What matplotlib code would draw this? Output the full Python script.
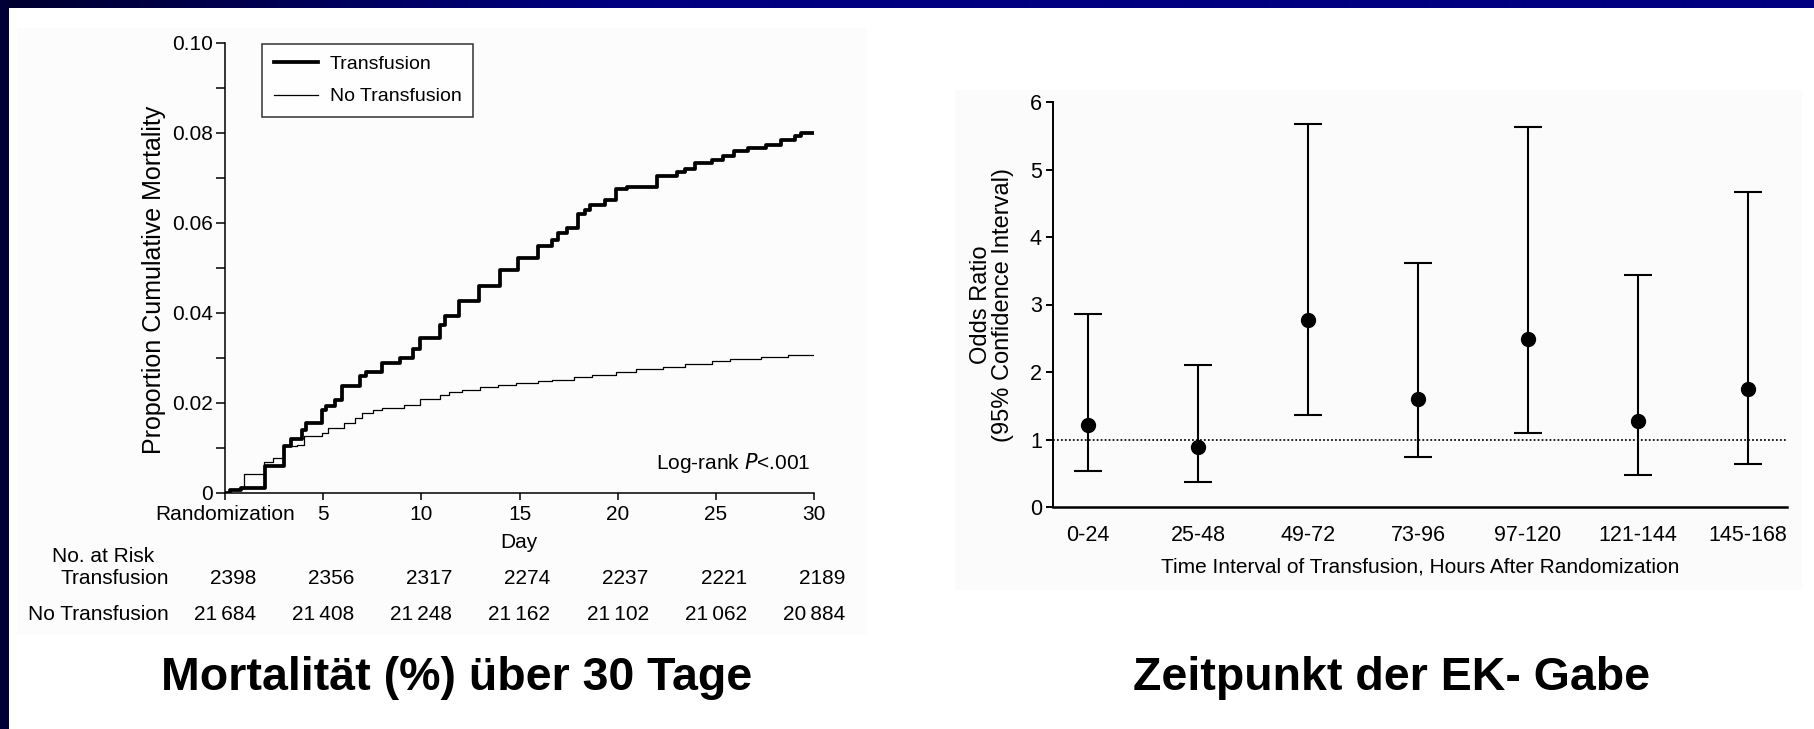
import numpy as np
import matplotlib
matplotlib.use("Agg")
import matplotlib.pyplot as plt
import matplotlib.transforms as mtransforms
from matplotlib.patches import Rectangle

plt.rcParams['font.family'] = ['Liberation Sans', 'DejaVu Sans']

# ---------------- data ----------------
trans_days = [0, 0.27, 0.84, 2.05, 3.0, 3.34, 3.91, 4.14, 4.93, 5.16, 5.61, 5.95, 6.86, 7.2,
              8.0, 8.91, 9.59, 9.93, 10.95, 11.18, 11.93, 12.93, 14.02, 14.93, 15.95, 16.64,
              16.98, 17.43, 18.0, 18.34, 18.57, 19.36, 19.93, 20.5, 21.98, 23.0, 23.45, 23.95,
              24.82, 25.39, 25.95, 26.64, 27.55, 28.34, 29.02, 29.36, 30]
trans_vals = [0, 0.0007, 0.0011, 0.0059, 0.0104, 0.0119, 0.0141, 0.0156, 0.0185, 0.0193, 0.0207,
              0.0237, 0.0259, 0.0269, 0.029, 0.030, 0.0319, 0.0344, 0.0374, 0.0393, 0.0426,
              0.0459, 0.0496, 0.0522, 0.055, 0.0563, 0.0578, 0.0589, 0.0619, 0.063, 0.0641,
              0.0652, 0.0676, 0.0681, 0.0704, 0.0713, 0.0719, 0.0733, 0.0741, 0.0748, 0.0759,
              0.0767, 0.0774, 0.0785, 0.0794, 0.0801, 0.0801]

notrans_days = [0, 0.27, 0.73, 0.95, 1.98, 2.43, 3.0, 3.68, 4.02, 4.93, 5.27, 6.07, 6.64, 6.98,
                7.55, 8.0, 9.14, 9.93, 10.95, 11.41, 12.09, 13.0, 13.91, 14.82, 15.95, 16.64,
                17.77, 18.68, 19.93, 20.95, 22.32, 23.45, 24.82, 25.73, 27.32, 28.68, 30]
notrans_vals = [0, 0.0007, 0.0011, 0.0043, 0.0068, 0.0078, 0.0104, 0.0107, 0.0126, 0.0133,
                0.0144, 0.0156, 0.0167, 0.0178, 0.0185, 0.0189, 0.0196, 0.0209, 0.0217, 0.0224,
                0.023, 0.0236, 0.0241, 0.0244, 0.0248, 0.0252, 0.0257, 0.0263, 0.027, 0.0276,
                0.0281, 0.0287, 0.0293, 0.0298, 0.0302, 0.0306, 0.0306]

risk_days = [0, 5, 10, 15, 20, 25, 30]
risk_trans = [2398, 2356, 2317, 2274, 2237, 2221, 2189]
risk_notrans = [21684, 21408, 21248, 21162, 21102, 21062, 20884]

categories = ['0-24', '25-48', '49-72', '73-96', '97-120', '121-144', '145-168']
odds = [1.21, 0.89, 2.77, 1.60, 2.49, 1.27, 1.75]
ci_low = [0.53, 0.37, 1.37, 0.74, 1.10, 0.47, 0.64]
ci_high = [2.86, 2.10, 5.67, 3.62, 5.63, 3.43, 4.67]

W, H = 1814, 729
fig = plt.figure(figsize=(W / 100, H / 100), dpi=100)
fig.patch.set_facecolor('white')

def fx(x):
    return x / W

def fy(y):
    return 1 - y / H

# background / frame
bg = fig.add_axes([0, 0, 1, 1], zorder=-10)
bg.axis('off')
bg.add_patch(Rectangle((17, 28), 850, 607, facecolor='#fcfcfc', edgecolor='none'))
bg.add_patch(Rectangle((955, 90), 847, 500, facecolor='#fbfbfb', edgecolor='none'))
grad = np.linspace(0, 1, 400)
cols = np.zeros((1, 400, 3))
start = np.array([0x00, 0x00, 0x30]) / 255
end = np.array([0x00, 0x00, 0x80]) / 255
t = np.clip(grad * 3, 0, 1)
cols[0] = start[None, :] * (1 - t[:, None]) + end[None, :] * t[:, None]
bg.imshow(cols, extent=(0, W, 8, 0), aspect='auto', interpolation='bilinear')
bg.add_patch(Rectangle((0, 0), 9, H, facecolor='#000036', edgecolor='none'))
bg.set_xlim(0, W)
bg.set_ylim(H, 0)

# ---------------- left panel ----------------
axL = fig.add_axes([fx(225), fy(493), fx(814) - fx(225), fy(43) - fy(493)])
axL.set_facecolor('none')
axL.step(trans_days, trans_vals, where='post', color='black', lw=2.7, label='Transfusion')
axL.step(notrans_days, notrans_vals, where='post', color='black', lw=0.9, label='No Transfusion')
axL.set_xlim(0, 30)
axL.set_ylim(0, 0.10)
for s in ['top', 'right']:
    axL.spines[s].set_visible(False)
for s in ['left', 'bottom']:
    axL.spines[s].set_linewidth(1.1)
axL.set_xticks(risk_days)
axL.set_xticklabels(['Randomization', '5', '10', '15', '20', '25', '30'])
axL.set_yticks([0, 0.02, 0.04, 0.06, 0.08, 0.10])
axL.set_yticklabels(['0', '0.02', '0.04', '0.06', '0.08', '0.10'])
axL.set_yticks([0.01, 0.03, 0.05, 0.07, 0.09], minor=True)
axL.tick_params(axis='both', which='both', direction='out', width=1.1, labelsize=15)
axL.tick_params(axis='y', which='both', length=6.5, pad=2)
axL.tick_params(axis='x', length=5, pad=4)

fig.text(fx(154), fy(280), 'Proportion Cumulative Mortality', rotation=90,
         ha='center', va='center', fontsize=18)

leg = axL.legend(loc='upper left', bbox_to_anchor=((262 - 225) / 589, 1.0 - (44 - 43) / 450),
                 frameon=True, fancybox=False, fontsize=14, handlelength=2.3,
                 borderpad=0.6, labelspacing=0.75, handletextpad=0.6, borderaxespad=0)
leg.get_frame().set_edgecolor('black')
leg.get_frame().set_linewidth(1.1)

axL.text(0.995, (493 - 463) / 450, 'Log-rank $\\it{P}$<.001', transform=axL.transAxes,
         ha='right', va='center', fontsize=15)

fig.text(fx(519), fy(542), 'Day', ha='center', va='center', fontsize=15)
fig.text(fx(52), fy(556), 'No. at Risk', ha='left', va='center', fontsize=15)
fig.text(fx(169), fy(579), 'Transfusion', ha='right', va='center', fontsize=15)
fig.text(fx(169), fy(614), 'No Transfusion', ha='right', va='center', fontsize=15)

tr = mtransforms.blended_transform_factory(axL.transData, fig.transFigure) + \
    mtransforms.ScaledTranslation(0.31, 0, fig.dpi_scale_trans)
for d, a, b in zip(risk_days, risk_trans, risk_notrans):
    fig.text(d, fy(579), f'{a}', transform=tr, ha='right', va='center', fontsize=15)
    fig.text(d, fy(614), f'{b // 1000}\u2009{b % 1000:03d}', transform=tr, ha='right',
             va='center', fontsize=15)

fig.text(fx(457), fy(690), 'Mortalität (%) über 30 Tage', ha='center', va='baseline',
         fontsize=33.5, fontweight='bold')

# ---------------- right panel ----------------
axR = fig.add_axes([fx(1053), fy(507), fx(1787) - fx(1053), fy(102) - fy(507)])
axR.set_facecolor('none')
xpos = np.arange(len(categories))
axR.axhline(1, color='#111111', lw=1.3, ls=(0, (1, 1.2)), zorder=1)
yerr = [np.array(odds) - np.array(ci_low), np.array(ci_high) - np.array(odds)]
axR.errorbar(xpos, odds, yerr=yerr, fmt='o', color='black', ms=10, elinewidth=1.5,
             capsize=10, capthick=1.5, zorder=3)
axR.set_xlim(-0.318, 6.355)
axR.set_ylim(0, 6)
for s in ['top', 'right']:
    axR.spines[s].set_visible(False)
axR.spines['left'].set_linewidth(1.4)
axR.spines['bottom'].set_linewidth(1.8)
axR.set_xticks(xpos)
axR.set_xticklabels(categories)
axR.set_yticks(range(7))
axR.tick_params(axis='x', length=0, pad=13, labelsize=15.5)
axR.tick_params(axis='y', direction='out', length=5, width=1.4, pad=3, labelsize=15.5)
axR.set_xlabel('Time Interval of Transfusion, Hours After Randomization', fontsize=15, labelpad=8)

fig.text(fx(992), fy(305), 'Odds Ratio\n(95% Confidence Interval)', rotation=90,
         ha='center', va='center', multialignment='center', fontsize=17, linespacing=1.05)

fig.text(fx(1392), fy(690), 'Zeitpunkt der EK- Gabe', ha='center', va='baseline',
         fontsize=33.5, fontweight='bold')

fig.savefig('out.png', dpi=100)
